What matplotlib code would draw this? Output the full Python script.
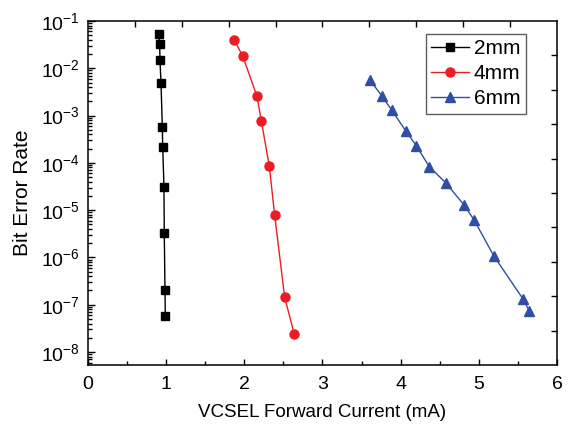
import numpy as np
import matplotlib
matplotlib.use('Agg')
import matplotlib.pyplot as plt
from matplotlib.ticker import LogLocator, MultipleLocator, NullFormatter

plt.rcParams['font.family'] = ['Liberation Sans', 'DejaVu Sans']
plt.rcParams['mathtext.fontset'] = 'custom'
plt.rcParams['mathtext.rm'] = 'Liberation Sans'
plt.rcParams['mathtext.it'] = 'Liberation Sans'

# BER vs VCSEL current
current_2mm = [0.904, 0.917, 0.921, 0.934, 0.951, 0.956, 0.972, 0.976, 0.985, 0.989]
ber_2mm = [5.2e-2, 3.3e-2, 1.5e-2, 5.0e-3, 5.8e-4, 2.2e-4, 3.1e-5, 3.3e-6, 2.05e-7, 5.9e-8]

current_4mm = [1.872, 1.979, 2.162, 2.217, 2.319, 2.388, 2.516, 2.639]
ber_4mm = [3.96e-2, 1.82e-2, 2.56e-3, 7.8e-4, 8.7e-5, 7.9e-6, 1.44e-7, 2.4e-8]

current_6mm = [3.607, 3.757, 3.885, 4.064, 4.200, 4.366, 4.576, 4.810, 4.942, 5.194, 5.569, 5.645]
ber_6mm = [5.65e-3, 2.63e-3, 1.31e-3, 4.79e-4, 2.31e-4, 8.3e-5, 3.8e-5, 1.29e-5, 6.1e-6, 1.06e-6, 1.30e-7, 7.4e-8]

labels = ['2mm', '4mm', '6mm']

fig = plt.figure(figsize=(5.68, 4.33), dpi=100)
pos = [0.1549, 0.157, 0.8257, 0.7945]
ax = fig.add_axes(pos)

ax.plot(current_2mm, ber_2mm, color='black', lw=1.0, marker='s', ms=6, label=labels[0])
ax.plot(current_4mm, ber_4mm, color='#ED1C24', lw=1.0, marker='o', ms=6.5, label=labels[1])
ax.plot(current_6mm, ber_6mm, color='#2E4FA5', lw=1.0, marker='^', ms=7.5, label=labels[2])

ax.set_yscale('log')
ax.set_xlim(0, 6)
ax.set_ylim(10 ** -8.275, 0.1)
ax.xaxis.set_major_locator(MultipleLocator(1))
ax.xaxis.set_minor_locator(MultipleLocator(0.5))
ax.yaxis.set_major_locator(LogLocator(base=10, numticks=20))
ax.yaxis.set_minor_locator(LogLocator(base=10, subs=np.arange(2, 10), numticks=20))
ax.yaxis.set_minor_formatter(NullFormatter())

ax.tick_params(axis='both', which='both', direction='in', top=False, right=False, width=1.0)
ax.tick_params(axis='x', which='major', length=4, labelsize=14, pad=8)
ax.tick_params(axis='x', which='minor', length=3)
ax.tick_params(axis='y', which='major', length=5, labelsize=14, pad=6)
ax.tick_params(axis='y', which='minor', length=3)
for s in ax.spines.values():
    s.set_linewidth(1.1)

ax.set_xlabel('VCSEL Forward Current (mA)', fontsize=13.5, labelpad=8)
ax.set_ylabel('Bit Error Rate', fontsize=15)
ax.yaxis.set_label_coords(-0.119, 0.5)

leg = ax.legend(loc='upper right', bbox_to_anchor=(0.933, 0.963), fontsize=15, frameon=True,
                fancybox=False, edgecolor='#333333', handlelength=1.8, handletextpad=0.25,
                borderpad=0.25, labelspacing=0.3, borderaxespad=0.0)
leg.get_frame().set_linewidth(1.0)

# Origin-style frame ticks on top and right
frame = fig.add_axes(pos, frameon=False)
frame.set_xlim(0, 1)
frame.set_ylim(0, 1)
frame.set_xticks(np.arange(0.1, 1.0, 0.1))
frame.set_yticks(np.arange(0.1, 1.0, 0.1))
frame.tick_params(axis='both', direction='in', length=4, width=1.0,
                  top=True, right=True, bottom=False, left=False,
                  labeltop=False, labelright=False, labelbottom=False, labelleft=False)
frame.patch.set_visible(False)

fig.savefig('out.png', dpi=100)
